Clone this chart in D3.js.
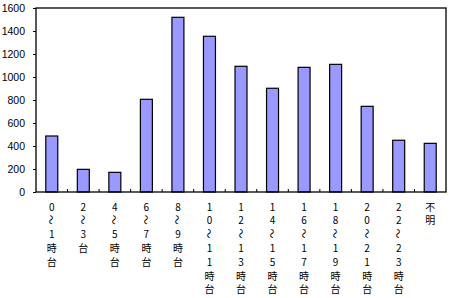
<!DOCTYPE html>
<html><head><meta charset="utf-8">
<script src="https://cdn.jsdelivr.net/npm/d3@7"></script>
<style>body{margin:0;background:#fff;} svg{display:block;}</style>
</head><body>
<svg id="c" width="449" height="298"></svg>
<script>
const categories = ["0～1時台","2～3台","4～5時台","6～7時台","8～9時台","10～11時台","12～13時台","14～15時台","16～17時台","18～19時台","20～21時台","22～23時台","不明"];
const values = [487,197,171,806,1519,1354,1093,902,1084,1110,745,450,423];
const yTicks = [0,200,400,600,800,1000,1200,1400,1600];

const svg = d3.select("#c");
const L = 36, R = 446, T = 8, B = 192;
const x = d3.scaleBand().domain(categories).range([L, R]).paddingInner(0.62).paddingOuter(0.31);
const y = d3.scaleLinear().domain([0,1600]).range([B, T]);

// bars
svg.append("g").selectAll("rect").data(values).join("rect")
  .attr("x", (d,i) => x(categories[i]))
  .attr("y", d => y(d))
  .attr("width", x.bandwidth())
  .attr("height", d => B - y(d))
  .attr("fill", "#9999FF")
  .attr("stroke", "#000")
  .attr("stroke-width", 1.2);

// plot box
svg.append("rect").attr("x", L).attr("y", T).attr("width", R - L).attr("height", B - T)
  .attr("fill", "none").attr("stroke", "#000").attr("stroke-width", 1.3);

// y axis
const yAxis = d3.axisLeft(y).tickValues(yTicks).tickFormat(d3.format("d")).tickSize(3).tickPadding(8);
const gy = svg.append("g").attr("transform", `translate(${L},0)`).call(yAxis);
gy.select(".domain").remove();
gy.selectAll("line").attr("stroke", "#000");
gy.selectAll("text").attr("font-family", "Liberation Sans, Arial, sans-serif").attr("font-size", 10.5).attr("fill", "#000");

// x ticks between categories, pointing inward
const xt = d3.range(1, categories.length).map(i => L + (R - L) * i / categories.length);
svg.append("g").selectAll("line").data(xt).join("line")
  .attr("x1", d => d).attr("x2", d => d).attr("y1", B).attr("y2", B - 3)
  .attr("stroke", "#000");

// x labels, vertical stacked characters
const lab = svg.append("g").attr("font-family", "'Noto Sans CJK JP', sans-serif").attr("font-size", 10).attr("fill", "#000");
categories.forEach(c => {
  const cx = x(c) + x.bandwidth() / 2;
  Array.from(c).forEach((ch, j) => {
    const cy = 206 + j * 13.8;
    const t = lab.append("text").attr("x", cx).attr("y", cy)
      .attr("text-anchor", "middle").attr("dominant-baseline", "central").text(ch);
    if (ch === "～") t.attr("transform", `rotate(90,${cx},${cy})`);
  });
});
</script>
</body></html>
